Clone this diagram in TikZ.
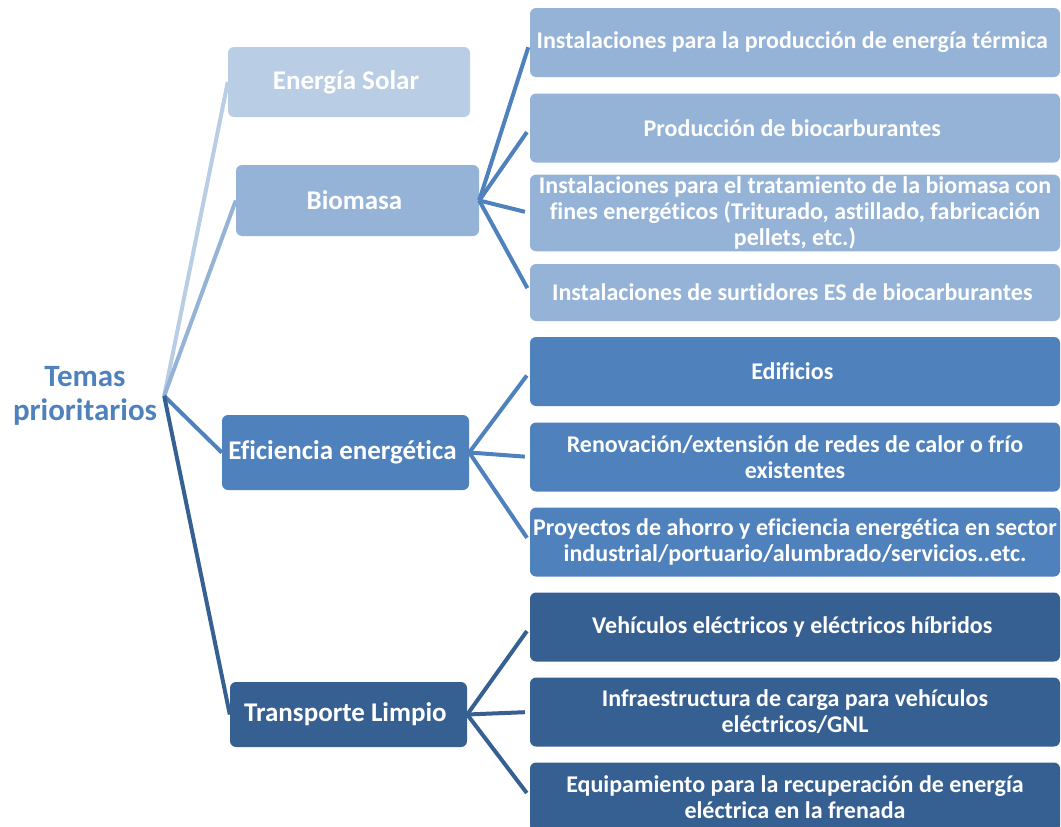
\documentclass[tikz,border=0pt]{standalone}
\usepackage{fontspec}
\setmainfont[Ligatures=NoCommon]{Carlito}
\definecolor{azulA}{HTML}{B9CDE5}
\definecolor{azulB}{HTML}{95B3D7}
\definecolor{azulC}{HTML}{4F81BD}
\definecolor{azulD}{HTML}{376092}
\begin{document}
\begin{tikzpicture}[x=1pt,y=-1pt,
        caja/.style={rounded corners=6pt,inner sep=2pt,align=center,text=white,
            font=\bfseries\fontsize{24}{26}\selectfont},
        tema/.style={caja,font=\bfseries\fontsize{27}{32}\selectfont},
        sub/.style={caja,minimum width=530pt,minimum height=69pt},
        linea/.style={line width=4pt}]

            \useasboundingbox (0,0) rectangle (1061,827);

            \node[inner xsep=7pt,align=center,text=azulC,font=\bfseries\fontsize{31}{34}\selectfont] (RAIZ) at (85, 396) { Temas\\prioritarios };

            \node[tema,fill=azulA,minimum width=242pt,minimum height=70pt] (SOLAR) at (349, 82) { Energía Solar };
            \node[tema,fill=azulB,minimum width=243pt,minimum height=71pt] (BIO) at (357.5, 200.5) { Biomasa };
            \node[tema,fill=azulC,minimum width=247pt,minimum height=75pt] (EFI) at (345.5, 452.5) { Eficiencia energética };
            \node[tema,fill=azulD,minimum width=237pt,minimum height=65pt] (TRANS) at (348.5, 714.5) { Transporte Limpio };

            \node[sub,fill=azulB] (B1) at (795, 42.5) { Instalaciones para la producción de energía térmica };
            \node[sub,fill=azulB] (B2) at (795, 128) { Producción de biocarburantes };
            \node[sub,fill=azulB] (B3) at (795, 213) { Instalaciones para el tratamiento de la biomasa con\\fines energéticos (Triturado, astillado, fabricación\\pellets, etc.) };
            \node[sub,fill=azulB,minimum height=57pt] (B4) at (795, 292.5) { Instalaciones de surtidores ES de biocarburantes };

            \node[sub,fill=azulC] (E1) at (795, 371.5) { Edificios };
            \node[sub,fill=azulC] (E2) at (795, 457) { Renovación/extensión de redes de calor o frío\\existentes };
            \node[sub,fill=azulC] (E3) at (795, 542) { Proyectos de ahorro y eficiencia energética en sector\\industrial/portuario/alumbrado/servicios..etc. };

            \node[sub,fill=azulD] (T1) at (795, 627) { Vehículos eléctricos y eléctricos híbridos };
            \node[sub,fill=azulD] (T2) at (795, 712) { Infraestructura de carga para vehículos\\eléctricos/GNL };
            \node[sub,fill=azulD] (T3) at (795, 797) { Equipamiento para la recuperación de energía\\eléctrica en la frenada };

            \draw[linea,azulA] (RAIZ.east) -- (SOLAR.west);
            \draw[linea,azulB] (RAIZ.east) -- (BIO.west);
            \draw[linea,azulC] (RAIZ.east) -- (EFI.west);
            \draw[linea,azulD] (RAIZ.east) -- (TRANS.west);

            \draw[linea,azulC,shorten >=5pt] (BIO.east) -- (B1.west);
            \draw[linea,azulC,shorten >=5pt] (BIO.east) -- (B2.west);
            \draw[linea,azulC,shorten >=5pt] (BIO.east) -- (B3.west);
            \draw[linea,azulC,shorten >=5pt] (BIO.east) -- (B4.west);

            \draw[linea,azulC,shorten >=5pt] (EFI.east) -- (E1.west);
            \draw[linea,azulC,shorten >=5pt] (EFI.east) -- (E2.west);
            \draw[linea,azulC,shorten >=5pt] (EFI.east) -- (E3.west);

            \draw[linea,azulD,shorten >=5pt] (TRANS.east) -- (T1.west);
            \draw[linea,azulD,shorten >=5pt] (TRANS.east) -- (T2.west);
            \draw[linea,azulD,shorten >=5pt] (TRANS.east) -- (T3.west);

        \end{tikzpicture}
\end{document}
